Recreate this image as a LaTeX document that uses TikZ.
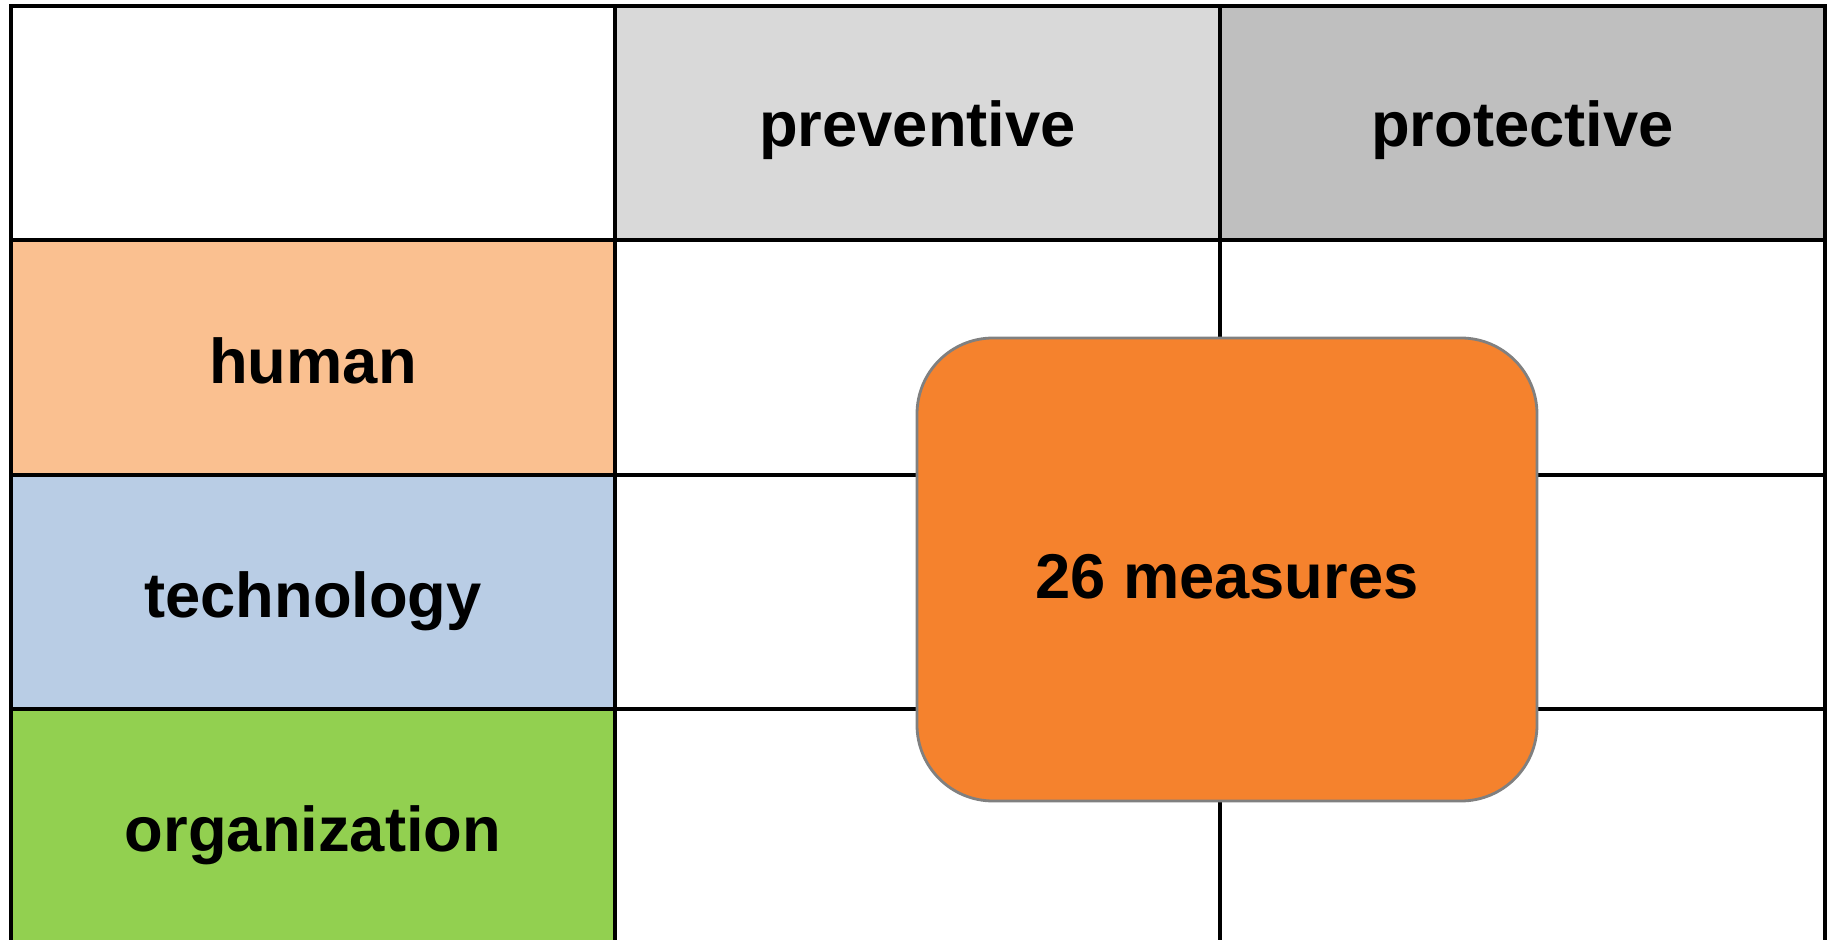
\documentclass[tikz,border=0pt]{standalone}
\usepackage{fontspec}
\setmainfont{Liberation Sans}
\usetikzlibrary{calc}
\definecolor{headlight}{HTML}{D9D9D9}
\definecolor{headdark}{HTML}{BFBFBF}
\definecolor{humancol}{HTML}{FAC090}
\definecolor{techcol}{HTML}{B9CDE5}
\definecolor{orgcol}{HTML}{92D050}
\definecolor{measurecol}{HTML}{F5822D}
\tikzset{
	cell/.style={line width=1.3pt, draw=black},
	celltext/.style={font=\fontsize{18}{22}\selectfont\bfseries},
}

\begin{document}
\begin{tikzpicture}[x=0.01cm, y=-0.01cm]
		%%%%% START %%%%%
		\useasboundingbox (0, 0) rectangle (1829, 940);
		\clip (0, 0) rectangle (1829, 940);
		
		% header row
		\draw[cell, fill=white] (11, 6) rectangle (615, 240);
		\draw[cell, fill=headlight] (615, 6) rectangle (1220, 240);
		\draw[cell, fill=headdark] (1220, 6) rectangle (1825, 240);
		
		% row labels
		\draw[cell, fill=humancol] (11, 240) rectangle (615, 475);
		\draw[cell, fill=techcol] (11, 475) rectangle (615, 709);
		\draw[cell, fill=orgcol] (11, 709) rectangle (615, 960);
		
		% empty cells
		\draw[cell] (615, 240) rectangle (1220, 475);
		\draw[cell] (1220, 240) rectangle (1825, 475);
		\draw[cell] (615, 475) rectangle (1220, 709);
		\draw[cell] (1220, 475) rectangle (1825, 709);
		\draw[cell] (615, 709) rectangle (1220, 960);
		\draw[cell] (1220, 709) rectangle (1825, 960);
		
		\node[celltext] (preventive) at (917.5, 130) {preventive};
		\node[celltext] (protective) at (1522.5, 130) {protective};
		\node[celltext] (human) at (313, 361) {human};
		\node[celltext] (technology) at (313, 601) {technology};
		\node[celltext] (organization) at (313, 835) {organization};
		
		% measures box
		\draw[fill=measurecol, draw=black!50, line width=0.8pt, rounded corners=0.76cm] (917, 338) rectangle (1537, 801);
		\node[celltext] (measures) at (1227, 577) {26 measures};
		
		%%%%% END %%%%%
	\end{tikzpicture}
\end{document}
